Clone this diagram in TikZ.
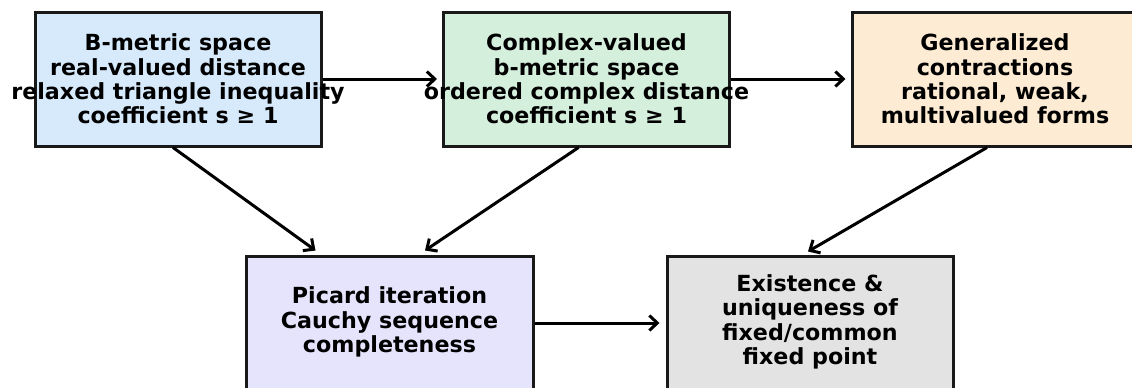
\documentclass[tikz,border=0pt]{standalone}
\usepackage{fontspec}
\setmainfont{DejaVu Sans}
\usetikzlibrary{arrows.meta,calc}
\definecolor{cA}{HTML}{D6EAFB}
\definecolor{cB}{HTML}{D5EFDD}
\definecolor{cC}{HTML}{FDEBD3}
\definecolor{cD}{HTML}{E6E4FC}
\definecolor{cE}{HTML}{E3E3E3}
\tikzset{
  box/.style={draw=black!90, line width=3pt, minimum width=286pt, minimum height=134pt, inner sep=0pt},
  txt/.style={align=center, font=\fontsize{22.2}{24.4}\selectfont\bfseries, inner sep=0pt},
  arr/.style={line width=3pt, -{Straight Barb[length=8pt,width=15pt]}}
}
\begin{document}
\begin{tikzpicture}[x=1pt,y=-1pt]
\useasboundingbox (0,0) rectangle (1132,388);
\node[box, fill=cA] (b1) at (178,79) {};
\node[box, fill=cB] (b2) at (586.5,79) {};
\node[box, fill=cC] (b3) at (995,79) {};
\node[box, fill=cD, minimum width=287pt] (b4) at (389.5,323) {};
\node[box, fill=cE] (b5) at (810,323) {};
\draw[arr] (b1.east) -- ([xshift=-5pt]b2.west);
\draw[arr] (b2.east) -- ([xshift=-5pt]b3.west);
\draw[arr] (b4.east) -- ([xshift=-6pt]b5.west);
\draw[arr] ([xshift=-5pt]b1.south) -- ([xshift=-74pt,yshift=4pt]b4.north);
\draw[arr] ([xshift=-8pt]b2.south) -- ([xshift=35.5pt,yshift=4pt]b4.north);
\draw[arr] ([xshift=-8pt]b3.south) -- ([xshift=-2pt,yshift=3pt]b5.north);
\node[txt] (t1) at (b1.center) {B-metric space\\real-valued distance\\relaxed triangle inequality\\coefficient s ≥ 1};
\node[txt] (t2) at (b2.center) {Complex-valued\\b-metric space\\ordered complex distance\\coefficient s ≥ 1};
\node[txt] (t3) at (b3.center) {Generalized\\contractions\\rational, weak,\\multivalued forms};
\node[txt] (t4) at ([yshift=1pt]b4.center) {Picard iteration\\Cauchy sequence\\completeness};
\node[txt] (t5) at ([yshift=1pt]b5.center) {Existence \&\\uniqueness of\\fixed/common\\fixed point};
\end{tikzpicture}
\end{document}
